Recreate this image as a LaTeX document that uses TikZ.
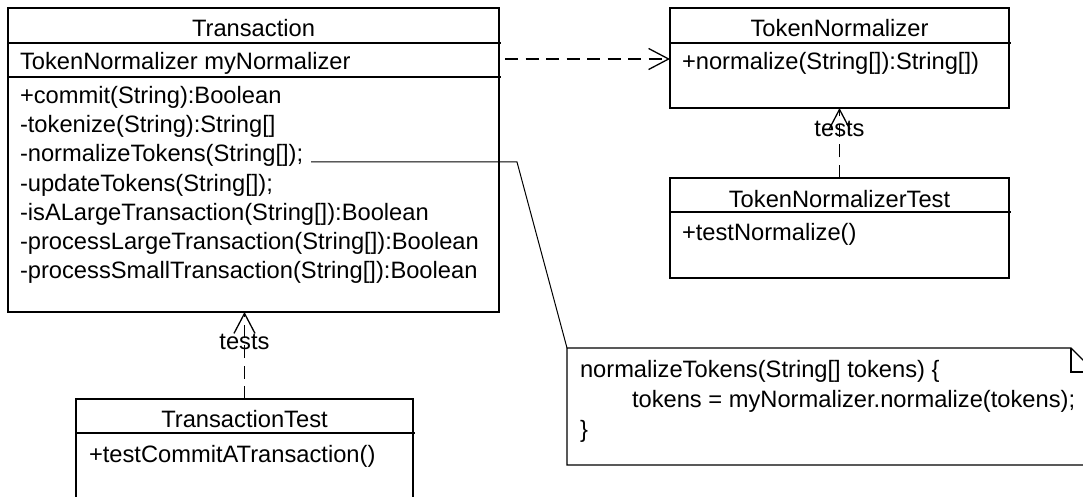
\documentclass[tikz,border=0pt]{standalone}
\usepackage{fontspec}
\setmainfont{Liberation Sans}
\usetikzlibrary{arrows.meta}
\begin{document}
\begin{tikzpicture}[x=1pt,y=-1pt,line width=1.3pt,
  every node/.style={font=\fontsize{23.7}{28.9}\selectfont, inner sep=0pt, outer sep=0pt},
  classbox/.style={draw, rectangle, inner sep=0pt, outer sep=0pt},
  txt/.style={anchor=base west},
  ttl/.style={anchor=base},
  dep/.style={dash pattern=on 13pt off 7.5pt, -{Straight Barb[length=20pt,width=21pt]}},
  link/.style={line width=1pt}]
\useasboundingbox (0,0) rectangle (1083,497);
\fill[white] (0,0) rectangle (1083,497);
\clip (0,0) rectangle (1083,497);

% Transaction
\node[classbox, minimum width=491pt, minimum height=304pt] (trans) at (253.5,160) {};
\node[ttl] (transT) at (253.5,37) {Transaction};
\draw (trans.west |- 0,43) -- ([xshift=2pt]trans.east |- 0,43);
\draw (trans.west |- 0,77) -- ([xshift=2pt]trans.east |- 0,77);
\node[txt] (attr) at (20,70) {TokenNormalizer myNormalizer};
\foreach \t [count=\i] in {{+commit(String):Boolean},{-tokenize(String):String[]},{-normalizeTokens(String[]);},{-updateTokens(String[]);},{-isALargeTransaction(String[]):Boolean},{-processLargeTransaction(String[]):Boolean},{-processSmallTransaction(String[]):Boolean}}
  \node[txt] (m\i) at (20,75+29*\i) {\t};

% TokenNormalizer
\node[classbox, minimum width=339pt, minimum height=100pt] (tn) at (839.5,58) {};
\node[ttl] (tnT) at (839.5,37) {TokenNormalizer};
\draw (tn.west |- 0,43) -- ([xshift=2pt]tn.east |- 0,43);
\node[txt] (tnm) at (682,70) {+normalize(String[]):String[])};

% TokenNormalizerTest
\node[classbox, minimum width=339pt, minimum height=100pt] (tnt) at (839.5,228) {};
\node[ttl] (tntT) at (839.5,207) {TokenNormalizerTest};
\draw (tnt.west |- 0,212) -- ([xshift=2pt]tnt.east |- 0,212);
\node[txt] (tntm) at (682,240) {+testNormalize()};

% TransactionTest
\node[classbox, minimum width=337pt, minimum height=110pt] (tt) at (244.5,454) {};
\node[ttl] (ttT) at (244.5,427) {TransactionTest};
\draw (tt.west |- 0,433) -- ([xshift=2pt]tt.east |- 0,433);
\node[txt] (ttm) at (89,462) {+testCommitATransaction()};

% Note
\coordinate (ntl) at (567,348);
\draw (ntl) -- (1071,348) -- (1095,372) -- (1095,465) -- (567,465) -- cycle;
\draw (1071,348) -- (1071,372) -- (1095,372);
\node[txt] (n1) at (580,377) {normalizeTokens(String[] tokens) \{};
\node[txt] (n2) at (632,407) {tokens = myNormalizer.normalize(tokens);};
\node[txt] (n3) at (580,437) {\}};

% Connectors
\coordinate (dstart) at (505,59);
\draw[dep] (dstart) -- (dstart -| tn.west);
\draw[dep] (tnt.north) -- (tn.south);
\node[ttl] (tl1) at (839.5,137) {tests};
\draw[dep] (tt.north) -- (tt.north |- trans.south);
\node[ttl] (tl2) at (244.5,349) {tests};
\coordinate (nstart) at ([xshift=8pt]m3.base east);
\coordinate (nbend) at (nstart -| 517,0);
\draw[link] (nstart) -- (nbend) -- (ntl);
\end{tikzpicture}
\end{document}
